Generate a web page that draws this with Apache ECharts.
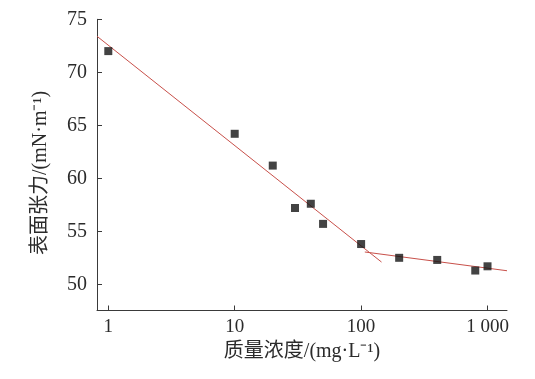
<!DOCTYPE html>
<html><head><meta charset="utf-8">
<script src="https://cdn.jsdelivr.net/npm/echarts@6/dist/echarts.min.js"></script>
<style>html,body{margin:0;padding:0;background:#fff}#c{width:535px;height:379px}</style>
</head><body><div id="c"></div>
<script>
// Measured data
const concentration = [1, 10, 20, 30, 40, 50, 100, 200, 400, 800, 1000];
const tension = [72.0, 64.2, 61.2, 57.2, 57.6, 55.7, 53.8, 52.5, 52.3, 51.3, 51.7];
// Fitted lines (end points)
const fit1X = [0.814, 145];
const fit1Y = [73.4, 52.1];
const fit2X = [107, 1426];
const fit2Y = [53.05, 51.28];
// Axes
const xTicks = [1, 10, 100, 1000];
const yTicks = [50, 55, 60, 65, 70, 75];
const xRange = [0.814, 1426];
const yRange = [47.53, 75];
const xName = '质量浓度/(mg·L⁻¹)';
const yName = '表面张力/(mN·m⁻¹)';

const FONT = "'Liberation Serif', 'Noto Sans CJK SC', serif";
const TXT = '#2b2b2b';
const AX = '#3a3a3a';

function pairs(xs, ys) { return xs.map((x, i) => [x, ys[i]]); }

const chart = echarts.init(document.getElementById('c'), null, {renderer: 'canvas'});
chart.setOption({
  backgroundColor: '#ffffff',
  animation: false,
  grid: {left: 97, right: 28, top: 19.3, bottom: 68.5, containLabel: false},
  xAxis: {
    type: 'log', logBase: 10, min: xRange[0], max: xRange[1],
    name: xName, nameLocation: 'middle', nameGap: 30,
    nameTextStyle: {fontFamily: FONT, fontSize: 20, color: TXT},
    axisLine: {show: true, lineStyle: {color: AX, width: 1}},
    axisTick: {show: true, inside: true, length: 5, lineStyle: {color: AX}, customValues: xTicks},
    axisLabel: {fontFamily: FONT, fontSize: 19, color: TXT, margin: 7, customValues: xTicks,
      formatter: v => v >= 1000 ? String(v).replace(/\B(?=(\d{3})+(?!\d))/g, ' ') : String(v)},
    splitLine: {show: false}, minorTick: {show: false}
  },
  yAxis: {
    type: 'value', min: yRange[0], max: yRange[1],
    name: yName, nameLocation: 'middle', nameGap: 46,
    nameTextStyle: {fontFamily: FONT, fontSize: 20, color: TXT, padding: [0, 16, 0, 0]},
    axisLine: {show: true, lineStyle: {color: AX, width: 1}},
    axisTick: {show: true, inside: true, length: 5, lineStyle: {color: AX}, customValues: yTicks},
    axisLabel: {fontFamily: FONT, fontSize: 20, color: TXT, margin: 10, customValues: yTicks},
    splitLine: {show: false}
  },
  series: [
    {type: 'line', data: pairs(fit1X, fit1Y), symbol: 'none', lineStyle: {color: '#c8504a', width: 1}, z: 2},
    {type: 'line', data: pairs(fit2X, fit2Y), symbol: 'none', lineStyle: {color: '#c8504a', width: 1}, z: 2},
    {type: 'scatter', data: pairs(concentration, tension), symbol: 'rect', symbolSize: 8,
      itemStyle: {color: '#141414'}, z: 3}
  ]
});
</script></body></html>
